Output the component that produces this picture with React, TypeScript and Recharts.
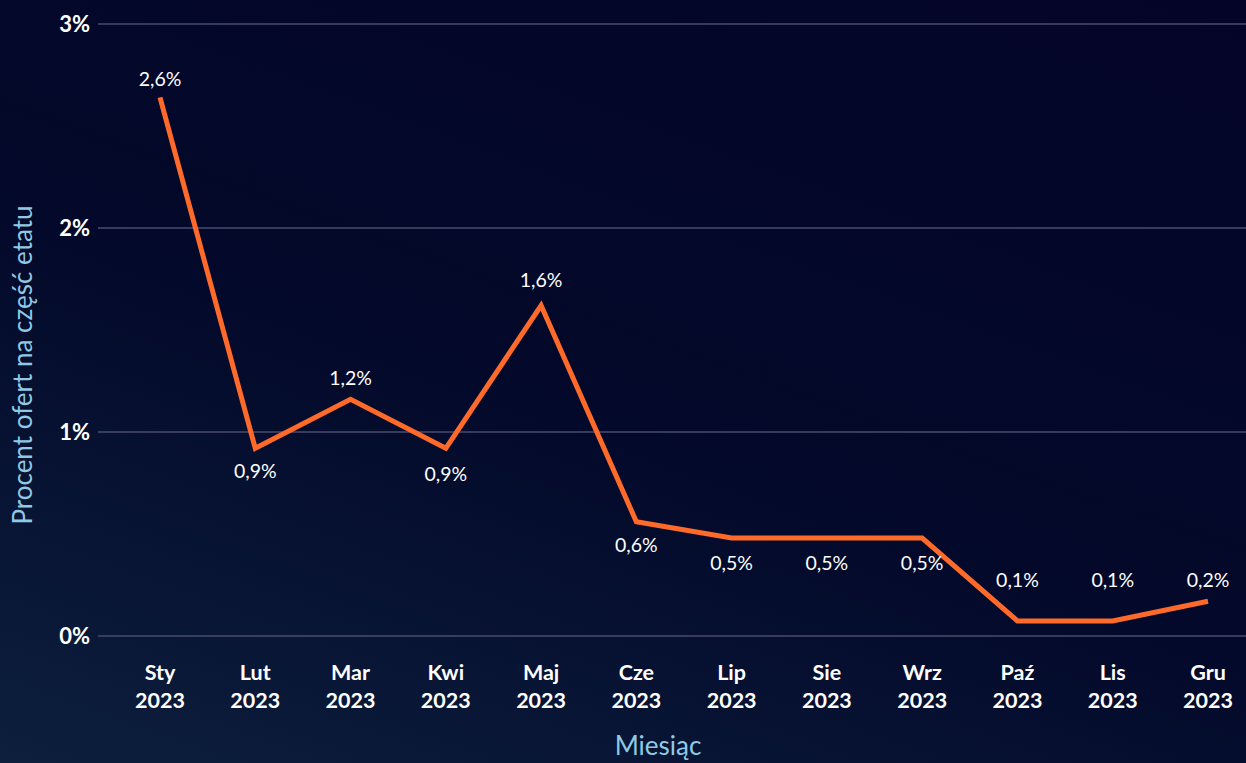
import React from 'react';
import { LineChart, Line, XAxis, YAxis, CartesianGrid, LabelList, Label } from 'recharts';

const months = ['Sty', 'Lut', 'Mar', 'Kwi', 'Maj', 'Cze', 'Lip', 'Sie', 'Wrz', 'Paź', 'Lis', 'Gru'];
const years = ['2023', '2023', '2023', '2023', '2023', '2023', '2023', '2023', '2023', '2023', '2023', '2023'];
const shares = [2.64, 0.92, 1.16, 0.92, 1.62, 0.56, 0.48, 0.48, 0.48, 0.074, 0.074, 0.17];
const yTicks = [0, 1, 2, 3];

// vertical offset of each value label relative to its point
const labelDy = [-18, 23, -21, 26, -26, 23, 25, 25, 25, -41, -41, -21];

const data = months.map((m, i) => ({ month: m, year: years[i], share: shares[i] }));

const FONT = 'Lato, "Noto Sans", sans-serif';
const AXIS_LABEL = '#8fc9e4';

const MonthTick = (props: any) => {
  const { x, y, payload, index } = props;
  return (
    <text x={x} y={y} textAnchor="middle" fill="#ffffff" fontFamily={FONT} fontWeight={700} fontSize={21.5}>
      <tspan x={x} dy={36}>{payload.value}</tspan>
      <tspan x={x} dy={28}>{years[index] ?? '2023'}</tspan>
    </text>
  );
};

const ValueLabel = (props: any) => {
  const { x, y, value, index } = props;
  const txt = Number(value).toFixed(1).replace('.', ',') + '%';
  return (
    <text x={x} y={y + labelDy[index]} dy={7} textAnchor="middle" fill="#ffffff" fontFamily={FONT} fontSize={19.5}>
      {txt}
    </text>
  );
};

const App: React.FC = () => {
  return (
    <div
      style={{
        position: 'fixed',
        left: 0,
        top: 0,
        width: 1246,
        height: 763,
        background: 'linear-gradient(20deg, #0d1f3d 0%, #03092a 45%, #040428 100%)',
      }}
    >
      <LineChart width={1246} height={763} data={data} margin={{ top: 24, right: 0, left: 0, bottom: 0 }}>
        <CartesianGrid vertical={false} stroke="#4a4b6d" strokeWidth={1.5} />
        <XAxis
          dataKey="month"
          axisLine={false}
          tickLine={false}
          interval={0}
          height={127}
          padding={{ left: 62, right: 38 }}
          tick={<MonthTick />}
        >
          <Label
            content={() => (
              <text x={658} y={755} textAnchor="middle" fill={AXIS_LABEL} fontFamily={FONT} fontSize={26}>
                Miesiąc
              </text>
            )}
          />
        </XAxis>
        <YAxis
          width={98}
          domain={[0, 3]}
          ticks={yTicks}
          axisLine={false}
          tickLine={false}
          tickFormatter={(v: number) => `${v}%`}
          tick={{ fill: '#ffffff', fontFamily: FONT, fontWeight: 700, fontSize: 22 }}
        >
          <Label
            content={() => (
              <text
                x={22}
                y={365}
                transform="rotate(-90, 22, 365)"
                textAnchor="middle"
                dominantBaseline="central"
                fill={AXIS_LABEL}
                fontFamily={FONT}
                fontSize={26}
              >
                Procent ofert na część etatu
              </text>
            )}
          />
        </YAxis>
        <Line
          type="linear"
          dataKey="share"
          stroke="#ff6a2b"
          strokeWidth={5}
          dot={false}
          activeDot={false}
          isAnimationActive={false}
        >
          <LabelList dataKey="share" content={<ValueLabel />} />
        </Line>
      </LineChart>
    </div>
  );
};

export default App;
